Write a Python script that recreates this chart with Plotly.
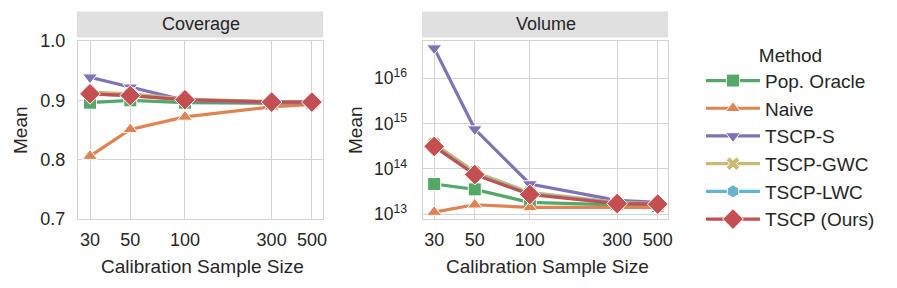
import plotly.graph_objects as go

# ---------------- data ----------------
sample_sizes = [30, 50, 100, 300, 500]
x_tick_labels = ["30", "50", "100", "300", "500"]
methods = ["Pop. Oracle", "Naive", "TSCP-S", "TSCP-GWC", "TSCP-LWC", "TSCP (Ours)"]
panel_titles = ["Coverage", "Volume"]

pop_oracle_cov = [0.896, 0.900, 0.896, 0.895, 0.896]
naive_cov = [0.806, 0.851, 0.872, 0.889, 0.893]
tscp_s_cov = [0.939, 0.922, 0.900, 0.896, 0.896]
tscp_gwc_cov = [0.914, 0.911, 0.902, 0.898, 0.898]
tscp_lwc_cov = [0.911, 0.908, 0.901, 0.897, 0.897]
tscp_cov = [0.911, 0.908, 0.901, 0.897, 0.897]

pop_oracle_vol = [4.6e13, 3.5e13, 1.8e13, 1.6e13, 1.5e13]
naive_vol = [1.1e13, 1.6e13, 1.4e13, 1.4e13, 1.4e13]
tscp_s_vol = [4.6e16, 7.5e14, 4.6e13, 2.0e13, 1.8e13]
tscp_gwc_vol = [3.6e14, 8.5e13, 3.0e13, 1.8e13, 1.7e13]
tscp_lwc_vol = [3.2e14, 7.7e13, 2.8e13, 1.75e13, 1.65e13]
tscp_vol = [3.1e14, 7.4e13, 2.7e13, 1.7e13, 1.65e13]

coverage = [pop_oracle_cov, naive_cov, tscp_s_cov, tscp_gwc_cov, tscp_lwc_cov, tscp_cov]
volume = [pop_oracle_vol, naive_vol, tscp_s_vol, tscp_gwc_vol, tscp_lwc_vol, tscp_vol]

# ---------------- style ----------------
colors = ["#55A868", "#DD8452", "#8172B3", "#CCB974", "#64B5CD", "#C44E52"]
symbols = ["square", "triangle-up", "triangle-down", "x", "hexagon", "diamond"]
sizes = [13, 13, 13, 12, 13, 16]
FONT = "Arial, Liberation Sans, sans-serif"
TXT = "#262626"
GRID = "#d3d3d3"

W, H = 897, 288
px_x = lambda p: p / W
px_y = lambda p: 1 - p / H

fig = go.Figure()
for i, m in enumerate(methods):
    for k, (data, xa, ya) in enumerate([(coverage, "x", "y"), (volume, "x2", "y2")]):
        fig.add_trace(go.Scatter(
            x=sample_sizes, y=data[i], xaxis=xa, yaxis=ya,
            mode="lines+markers", name=m, showlegend=(k == 0),
            line=dict(color=colors[i], width=3.2),
            marker=dict(symbol=symbols[i], size=sizes[i], color=colors[i],
                        line=dict(color="white", width=1)),
        ))

# panel geometry (pixels)
p1 = (78, 323)
p2 = (423, 668)
ytop, ybot = 41, 219

common_x = dict(type="log", tickvals=sample_sizes, ticktext=x_tick_labels,
                showgrid=True, gridcolor=GRID, gridwidth=1, showline=True, mirror=True,
                linecolor=GRID, linewidth=1.2, zeroline=False, ticks="",
                tickfont=dict(family=FONT, size=18, color=TXT), ticklabelstandoff=4)
common_y = dict(showgrid=True, gridcolor=GRID, gridwidth=1, showline=True, mirror=True,
                linecolor=GRID, linewidth=1.2, zeroline=False, ticks="")

fig.update_layout(
    width=W, height=H, margin=dict(l=0, r=0, t=0, b=0, autoexpand=False),
    paper_bgcolor="white", plot_bgcolor="white",
    font=dict(family=FONT, color=TXT),
    xaxis=dict(domain=[px_x(p1[0]), px_x(p1[1])], range=[1.411, 2.760], anchor="y", **common_x),
    xaxis2=dict(domain=[px_x(p2[0]), px_x(p2[1])], range=[1.416, 2.755], anchor="y2", **common_x),
    yaxis=dict(domain=[px_y(ybot), px_y(ytop)], range=[0.7, 1.0], anchor="x",
               tickvals=[0.7, 0.8, 0.9, 1.0], ticktext=["0.7", "0.8", "0.9", "1.0"],
               tickfont=dict(family=FONT, size=18, color=TXT), ticklabelstandoff=8, **common_y),
    yaxis2=dict(domain=[px_y(ybot), px_y(ytop)], type="log", range=[12.89, 16.82], anchor="x2",
                dtick=1, exponentformat="power",
                tickfont=dict(family=FONT, size=14, color=TXT), ticklabelstandoff=12, **common_y),
    legend=dict(x=px_x(701), y=px_y(37), xanchor="left", yanchor="top",
                bgcolor="rgba(0,0,0,0)", borderwidth=0, itemwidth=54, tracegroupgap=0,
                font=dict(family=FONT, size=19, color=TXT),
                title=dict(text="Method", side="top center",
                           font=dict(family=FONT, size=19, color=TXT))),
)

# facet strips and titles
for (a, b), t in zip([p1, p2], panel_titles):
    fig.add_shape(type="rect", xref="paper", yref="paper",
                  x0=px_x(a - 1), x1=px_x(b), y0=px_y(37.5), y1=px_y(11.5),
                  fillcolor="#e0e0e0", line=dict(width=0), layer="below")
    fig.add_annotation(text=t, xref="paper", yref="paper", x=px_x((a + b) / 2), y=px_y(24.5),
                       showarrow=False, font=dict(family=FONT, size=18, color=TXT),
                       xanchor="center", yanchor="middle")
    fig.add_annotation(text="Calibration Sample Size", xref="paper", yref="paper",
                       x=px_x((a + b) / 2 + 2), y=px_y(266), showarrow=False,
                       font=dict(family=FONT, size=19, color=TXT),
                       xanchor="center", yanchor="middle")

for xc in [20, 355]:
    fig.add_annotation(text="Mean", xref="paper", yref="paper", x=px_x(xc), y=px_y(130),
                       showarrow=False, textangle=-90, font=dict(family=FONT, size=19, color=TXT),
                       xanchor="center", yanchor="middle")

fig.write_html("out.html", config={"displayModeBar": False},
               post_script="document.body.style.margin='0px';")
